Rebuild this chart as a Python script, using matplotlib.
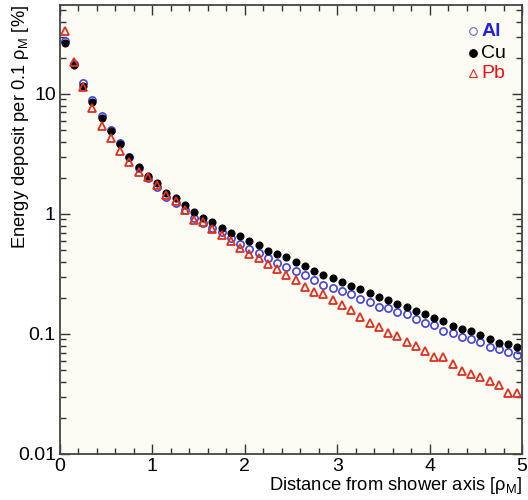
import numpy as np
import matplotlib
matplotlib.use("Agg")
import matplotlib.pyplot as plt
from matplotlib.ticker import LogLocator, FixedLocator, NullFormatter, FuncFormatter

plt.rcParams['font.family'] = ['Liberation Sans', 'DejaVu Sans']
plt.rcParams['mathtext.fontset'] = 'custom'
plt.rcParams['mathtext.rm'] = 'Liberation Sans'
plt.rcParams['mathtext.it'] = 'Liberation Sans:italic'

distance = [0.05 + 0.1 * i for i in range(50)]

al = [27.8, 17.8, 12.4, 8.9, 6.6, 5.0, 3.93, 3.0, 2.4, 1.98,
      1.69, 1.39, 1.23, 1.08, 0.92, 0.84, 0.77, 0.71, 0.63, 0.56,
      0.51, 0.47, 0.433, 0.393, 0.36, 0.335, 0.31, 0.282, 0.256, 0.24,
      0.23, 0.215, 0.196, 0.186, 0.169, 0.163, 0.151, 0.146, 0.134, 0.124,
      0.119, 0.106, 0.101, 0.095, 0.090, 0.086, 0.078, 0.0745, 0.0713, 0.0668]

cu = [26.6, 17.4, 11.7, 8.6, 6.35, 4.9, 3.8, 3.0, 2.46, 2.07,
      1.80, 1.5, 1.37, 1.19, 1.045, 0.93, 0.85, 0.765, 0.70, 0.65,
      0.60, 0.55, 0.494, 0.464, 0.436, 0.396, 0.369, 0.337, 0.31, 0.295,
      0.27, 0.251, 0.236, 0.221, 0.205, 0.19, 0.177, 0.168, 0.156, 0.148,
      0.135, 0.127, 0.117, 0.109, 0.106, 0.098, 0.090, 0.0836, 0.082, 0.0774]

pb = [33.5, 18.6, 11.5, 7.6, 5.4, 4.27, 3.35, 2.73, 2.25, 2.02,
      1.73, 1.45, 1.27, 1.08, 0.89, 0.86, 0.745, 0.67, 0.59, 0.52,
      0.46, 0.43, 0.383, 0.346, 0.31, 0.282, 0.245, 0.222, 0.214, 0.192,
      0.174, 0.158, 0.139, 0.124, 0.114, 0.1026, 0.096, 0.086, 0.079, 0.0726,
      0.064, 0.064, 0.0559, 0.0492, 0.0464, 0.0435, 0.0406, 0.0376, 0.032, 0.032]

labels = ['Al', 'Cu', 'Pb']
colors = ['#2222dd', '#000000', '#ee1111']
marker_colors = ['#4444dd', '#000000', '#e0301e']

fig = plt.figure(figsize=(5.28, 5.00), dpi=100)
ax = fig.add_axes([60/528, 46/500, 462/528, 449/500])
ax.set_facecolor('#fcfcf4')

ax.plot(distance, al, linestyle='none', marker='o', markersize=5.2,
        markerfacecolor='none', markeredgecolor=marker_colors[0], markeredgewidth=1.2)
ax.plot(distance, cu, linestyle='none', marker='o', markersize=5.2,
        markerfacecolor='black', markeredgecolor='black', markeredgewidth=0.6)
ax.plot(distance, pb, linestyle='none', marker='^', markersize=5.8,
        markerfacecolor='none', markeredgecolor=marker_colors[2], markeredgewidth=1.3)

ax.set_yscale('log')
ax.set_xlim(0, 5)
ax.set_ylim(0.01, 55)

ax.xaxis.set_major_locator(FixedLocator([0, 1, 2, 3, 4, 5]))
ax.xaxis.set_minor_locator(FixedLocator([i * 0.2 for i in range(26)]))
ax.yaxis.set_major_locator(FixedLocator([0.01, 0.1, 1, 10]))
ax.yaxis.set_minor_locator(LogLocator(base=10, subs=np.arange(2, 10)))
ax.yaxis.set_minor_formatter(NullFormatter())
ax.yaxis.set_major_formatter(FuncFormatter(lambda v, p: {0.01: '0.01', 0.1: '0.1', 1: '1', 10: '10'}.get(round(v, 3), '')))
ax.xaxis.set_major_formatter(FuncFormatter(lambda v, p: '%d' % round(v)))

ax.tick_params(which='both', direction='in', top=True, right=True, colors='#333333',
               labelcolor='black', labelsize=14)
ax.tick_params(which='major', length=7, width=1)
ax.tick_params(which='minor', length=4, width=1)
ax.tick_params(axis='x', pad=3)
ax.tick_params(axis='y', pad=3)
for s in ax.spines.values():
    s.set_color('#444444')
    s.set_linewidth(1.3)

ax.set_xlabel('Distance from shower axis [ρ$_{\\rm M}$]', fontsize=13.2, loc='right', labelpad=0)
ax.set_ylabel('Energy deposit per 0.1 ρ$_{\\rm M}$ [%]', fontsize=13.2, loc='top')
ax.yaxis.set_label_coords(-0.062, 1.0)

# legend
leg_y = [0.942, 0.893, 0.848]
mk = ['o', 'o', '^']
for i in range(3):
    fc = 'black' if i == 1 else 'none'
    ax.plot([0.895], [leg_y[i]], transform=ax.transAxes, linestyle='none', marker=mk[i],
            markersize=5.5, markerfacecolor=fc, markeredgecolor=marker_colors[i] if i != 0 else '#6666cc',
            markeredgewidth=0.8, clip_on=False)
    ax.text(0.912, leg_y[i], labels[i], transform=ax.transAxes, color=colors[i],
            fontsize=14, fontweight='bold' if i == 0 else 'normal', va='center', ha='left')

fig.savefig('out.png', dpi=100)
